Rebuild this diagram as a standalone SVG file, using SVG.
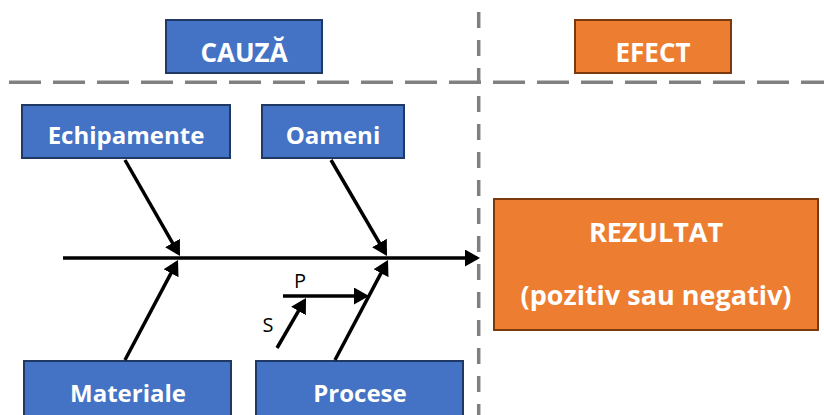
<svg xmlns="http://www.w3.org/2000/svg" width="824" height="415" viewBox="0 0 824 415">
  <defs>
    <marker id="head" markerUnits="userSpaceOnUse" markerWidth="16" markerHeight="17" refX="12" refY="8.5" orient="auto">
      <path d="M0,0 L15,8.5 L0,17 z" fill="#000"/>
    </marker>
    <style>
      .blue { fill: #4472C4; stroke: #1F3864; stroke-width: 2; }
      .orange { fill: #ED7D31; stroke: #7A3A0E; stroke-width: 2; }
      .lbl { font-family: "Open Sans", "Liberation Sans", sans-serif; font-weight: 700; fill: #fff; text-anchor: middle; }
      .small { font-family: "Open Sans", "Liberation Sans", sans-serif; font-size: 20px; fill: #000; text-anchor: middle; }
      .div { fill: none; stroke: #808080; stroke-width: 3.5; }
      .arrow { fill: none; stroke: #000; stroke-width: 3.5; marker-end: url(#head); }
    </style>
  </defs>

  <rect width="824" height="415" fill="#fff"/>

  <!-- section dividers -->
  <g id="dividers">
    <line class="div" x1="9" y1="82.3" x2="481" y2="82.3" stroke-dasharray="32 12"/>
    <line class="div" x1="493" y1="82.3" x2="824" y2="82.3" stroke-dasharray="32 12"/>
    <line class="div" x1="478.7" y1="12" x2="478.7" y2="415" stroke-dasharray="16 12"/>
  </g>

  <!-- section headers -->
  <g id="cauza">
    <rect class="blue" x="166" y="20" width="156" height="53"/>
    <text class="lbl" x="244" y="62" font-size="26">CAUZĂ</text>
  </g>
  <g id="efect">
    <rect class="orange" x="575" y="20" width="156" height="53"/>
    <text class="lbl" x="653" y="62" font-size="26">EFECT</text>
  </g>

  <!-- cause categories -->
  <g id="echipamente">
    <rect class="blue" x="22" y="105" width="208" height="53"/>
    <text class="lbl" x="126" y="144" font-size="24">Echipamente</text>
  </g>
  <g id="oameni">
    <rect class="blue" x="262" y="105" width="142" height="53"/>
    <text class="lbl" x="333" y="144" font-size="24">Oameni</text>
  </g>
  <g id="materiale">
    <rect class="blue" x="24" y="361" width="207" height="60"/>
    <text class="lbl" x="128" y="402" font-size="24">Materiale</text>
  </g>
  <g id="procese">
    <rect class="blue" x="256" y="361" width="207" height="60"/>
    <text class="lbl" x="360" y="402" font-size="24">Procese</text>
  </g>

  <!-- outcome -->
  <g id="rezultat">
    <rect class="orange" x="494" y="199" width="324" height="131"/>
    <text class="lbl" x="656" y="242" font-size="27">REZULTAT</text>
    <text class="lbl" x="656" y="305" font-size="27">(pozitiv sau negativ)</text>
  </g>

  <!-- fishbone spine, bones and sub-causes -->
  <g id="connectors">
    <line class="arrow" x1="63" y1="258" x2="477" y2="258"/>
    <line class="arrow" x1="125" y1="160" x2="178.5" y2="253.4"/>
    <line class="arrow" x1="331" y1="160" x2="385.5" y2="253.4"/>
    <line class="arrow" x1="125" y1="360" x2="176.6" y2="262.6"/>
    <line class="arrow" x1="335" y1="360" x2="386.6" y2="262.6"/>
    <line class="arrow" x1="283" y1="296" x2="366" y2="296"/>
    <line class="arrow" x1="277" y1="348" x2="304.5" y2="300.6"/>
  </g>

  <g id="sub-labels">
    <text class="small" x="300" y="288">P</text>
    <text class="small" x="268" y="332">S</text>
  </g>
</svg>
